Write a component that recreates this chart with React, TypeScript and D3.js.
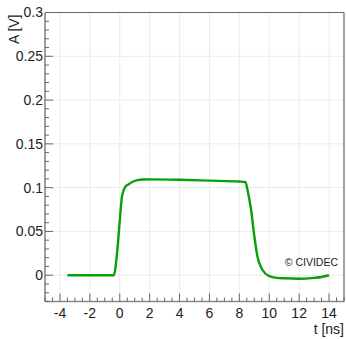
import React from "react"
import * as d3 from "d3"

// pulse (time in ns, amplitude in V)
const times = [-3.5, -1, -0.4, -0.2, 0, 0.15, 0.37, 0.6, 0.9, 1.5, 2, 4, 6, 8, 8.4, 8.55, 8.78, 9.0, 9.2, 9.55, 10, 10.5, 11, 12, 13, 13.5, 14]
const amps = [0, 0, 0, 0.022, 0.062, 0.09, 0.101, 0.104, 0.107, 0.1093, 0.1095, 0.109, 0.108, 0.107, 0.1065, 0.097, 0.075, 0.045, 0.022, 0.006, -0.001, -0.003, -0.0035, -0.004, -0.003, -0.002, 0]

const xTicks = [-4, -2, 0, 2, 4, 6, 8, 10, 12, 14]
const yTicks = [0, 0.05, 0.1, 0.15, 0.2, 0.25, 0.3]
const yTickLabels = ["0", "0.05", "0.1", "0.15", "0.2", "0.25", "0.3"]

const W = 346
const H = 339
const m = { top: 12.5, right: 2, bottom: 37.5, left: 45 }
const FONT = "'Liberation Sans', Arial, sans-serif"

export default function App() {
    const x = d3.scaleLinear().domain([-5, 15]).range([m.left, W - m.right])
    const y = d3.scaleLinear().domain([-0.03, 0.3]).range([H - m.bottom, m.top])

    const x0 = x.range()[0]
    const x1 = x.range()[1]
    const y0 = y.range()[0]
    const y1 = y.range()[1]

    const xMinor = d3.range(-5, 15.01, 0.5).filter((t) => Math.abs(t % 2) > 1e-6)
    const yMinor = d3.range(-0.03, 0.3001, 0.01).filter((v) => Math.abs(Math.round(v * 100) % 5) !== 0)

    const line = d3
        .line<number>()
        .x((_, i) => x(times[i]))
        .y((d) => y(d))
        .curve(d3.curveMonotoneX)

    return (
        <svg width={W} height={H} style={{ position: "absolute", left: 0, top: 0, background: "#fff" }}>
            {/* grid */}
            {xTicks.map((t) => (
                <line key={"gx" + t} x1={x(t)} x2={x(t)} y1={y0} y2={y1} stroke="#ebebeb" strokeWidth={1} />
            ))}
            {yTicks.map((v) => (
                <line key={"gy" + v} x1={x0} x2={x1} y1={y(v)} y2={y(v)} stroke="#ebebeb" strokeWidth={1} />
            ))}

            {/* curve */}
            <path d={line(amps) || ""} fill="none" stroke="#0a9f0a" strokeWidth={2.4} strokeLinejoin="round" />

            {/* frame */}
            <line x1={x0} x2={x1} y1={y1} y2={y1} stroke="#666" strokeWidth={1.2} />
            <line x1={x1} x2={x1} y1={y1} y2={y0} stroke="#666" strokeWidth={1.2} />
            <line x1={x0} x2={x0} y1={y1} y2={y0} stroke="#888" strokeWidth={1.6} />
            <line x1={x0} x2={x1} y1={y0} y2={y0} stroke="#888" strokeWidth={1.6} />

            {/* x ticks */}
            {xTicks.map((t) => (
                <line key={"xt" + t} x1={x(t)} x2={x(t)} y1={y0} y2={y0 - 8} stroke="#666" strokeWidth={1} />
            ))}
            {xMinor.map((t) => (
                <line key={"xm" + t} x1={x(t)} x2={x(t)} y1={y0} y2={y0 - 4} stroke="#666" strokeWidth={1} />
            ))}
            {xTicks.map((t) => (
                <text key={"xl" + t} x={x(t)} y={y0 + 16} textAnchor="middle" fontFamily={FONT} fontSize={14} fill="#222">
                    {t}
                </text>
            ))}

            {/* y ticks */}
            {yTicks.map((v) => (
                <line key={"yt" + v} x1={x0} x2={x0 + 8} y1={y(v)} y2={y(v)} stroke="#666" strokeWidth={1} />
            ))}
            {yMinor.map((v) => (
                <line key={"ym" + v} x1={x0} x2={x0 + 4} y1={y(v)} y2={y(v)} stroke="#666" strokeWidth={1} />
            ))}
            {yTicks.map((v, i) => (
                <text key={"yl" + v} x={x0 - 2} y={y(v)} dy="0.35em" textAnchor="end" fontFamily={FONT} fontSize={14} fill="#222">
                    {yTickLabels[i]}
                </text>
            ))}

            {/* axis titles */}
            <text x={x1} y={334} textAnchor="end" fontFamily={FONT} fontSize={14} fill="#222">
                t [ns]
            </text>
            <text transform={`translate(19,${y1 + 2}) rotate(-90)`} textAnchor="end" fontFamily={FONT} fontSize={14} fill="#222">
                A [V]
            </text>

            <text x={338} y={266} textAnchor="end" fontFamily={FONT} fontSize={10.5} fill="#222">
                © CIVIDEC
            </text>
        </svg>
    )
}
